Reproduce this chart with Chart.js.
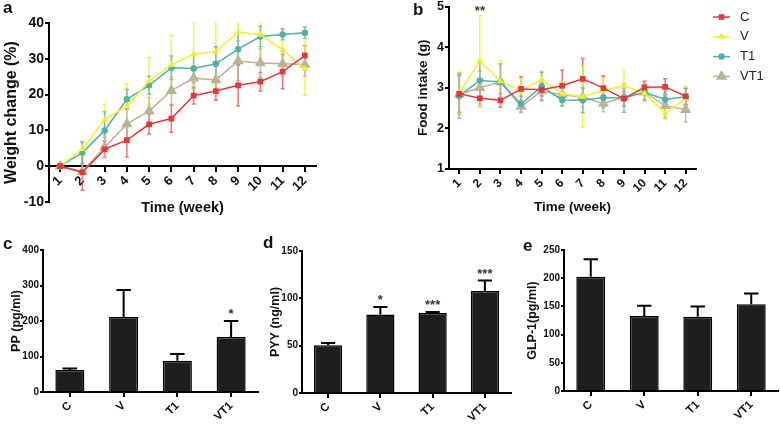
<!DOCTYPE html>
<html>
<head>
<meta charset="utf-8">
<script src="https://cdn.jsdelivr.net/npm/chart.js@4.4.1/dist/chart.umd.min.js"></script>
<style>
  html, body { margin: 0; padding: 0; background: #fff; }
  #page { position: relative; width: 780px; height: 424px; overflow: hidden; }
  .panel { position: absolute; }
  .letter { position: absolute; font: bold 17px 'Liberation Sans', Arial, sans-serif; color: #111; line-height: 1; }
</style>
</head>
<body>
<div id="page">
  <div class="panel" style="left:2px;top:13px;width:328px;height:236px"><canvas id="weightChart"></canvas></div>
  <div class="panel" style="left:415px;top:0px;width:365px;height:215px"><canvas id="foodChart"></canvas></div>
  <div class="panel" style="left:9px;top:240px;width:253px;height:184px"><canvas id="ppChart"></canvas></div>
  <div class="panel" style="left:268px;top:241px;width:247px;height:183px"><canvas id="pyyChart"></canvas></div>
  <div class="panel" style="left:525px;top:240px;width:255px;height:184px"><canvas id="glpChart"></canvas></div>
  <div class="letter" style="left:3px;top:-1px">a</div>
  <div class="letter" style="left:413px;top:1px">b</div>
  <div class="letter" style="left:3px;top:235px">c</div>
  <div class="letter" style="left:263px;top:234px">d</div>
  <div class="letter" style="left:523px;top:237px">e</div>
</div>
<script>
// week labels and groups
const weeks = ['1', '2', '3', '4', '5', '6', '7', '8', '9', '10', '11', '12'];
const groups = ['C', 'V', 'T1', 'VT1'];

// weight change (%) per group, mean and SD
const weightC   = [0, -1.7, 4.7, 7.3, 11.7, 13.3, 19.7, 21.0, 22.6, 23.6, 26.4, 30.9];
const weightV   = [0, 4.8, 13.0, 16.8, 23.8, 28.3, 31.3, 32.0, 37.5, 36.7, 32.5, 27.3];
const weightT1  = [0, 3.8, 10.0, 18.7, 22.6, 27.5, 27.3, 28.6, 32.7, 36.2, 36.8, 37.3];
const weightVT1 = [0, -1.5, 5.3, 11.8, 15.4, 21.1, 24.6, 24.1, 29.4, 28.8, 28.6, 28.4];
const weightErrC   = [0.3, 5.0, 2.3, 4.7, 2.8, 3.8, 2.3, 2.6, 5.8, 2.6, 4.8, 2.8];
const weightErrV   = [0.3, 2.0, 4.3, 6.2, 6.5, 8.2, 9.0, 9.0, 8.0, 6.5, 6.0, 7.5];
const weightErrT1  = [0.3, 3.0, 5.2, 2.8, 2.5, 3.3, 4.0, 4.8, 4.5, 2.8, 1.5, 1.6];
const weightErrVT1 = [0.3, 2.0, 2.8, 4.5, 3.8, 3.8, 3.0, 3.8, 5.5, 4.0, 3.5, 3.2];

// food intake (g)
const foodC   = [2.85, 2.74, 2.69, 2.97, 2.95, 3.05, 3.22, 2.99, 2.73, 3.01, 3.02, 2.79];
const foodV   = [2.88, 3.66, 3.16, 2.92, 3.20, 2.85, 2.78, 2.93, 3.05, 2.86, 2.37, 2.73];
const foodT1  = [2.80, 3.18, 3.14, 2.60, 3.03, 2.70, 2.69, 2.76, 2.75, 2.89, 2.71, 2.78];
const foodVT1 = [2.84, 3.00, 3.14, 2.54, 2.92, 2.83, 2.77, 2.61, 2.77, 2.89, 2.56, 2.46];
const foodErrC   = [0.45, 0.20, 0.17, 0.30, 0.15, 0.38, 0.50, 0.30, 0.18, 0.15, 0.20, 0.20];
const foodErrV   = [0.50, 1.12, 0.50, 0.30, 0.20, 0.30, 0.75, 0.30, 0.38, 0.20, 0.15, 0.30];
const foodErrT1  = [0.55, 0.45, 0.45, 0.20, 0.35, 0.15, 0.30, 0.25, 0.35, 0.20, 0.20, 0.20];
const foodErrVT1 = [0.50, 0.40, 0.45, 0.15, 0.20, 0.15, 0.25, 0.20, 0.20, 0.20, 0.30, 0.30];
const foodStarsV = ['', '**', '', '', '', '', '', '', '', '', '', ''];

// hormones
const pp = [62, 211, 88, 155];
const ppErr = [4, 76, 19, 45];
const ppStars = ['', '', '', '*'];
const pyy = [50.4, 82.9, 84.6, 107.8];
const pyyErr = [2.5, 8, 1, 11];
const pyyStars = ['', '*', '***', '***'];
const glp1 = [202.7, 133, 131.7, 153.7];
const glp1Err = [31, 18, 18, 19];

/*********************************************/

const FONT = "'Liberation Sans', Arial, sans-serif";
Chart.defaults.font.family = FONT;
Chart.defaults.font.weight = 'bold';
Chart.defaults.color = '#111';
Chart.defaults.animation = false;
Chart.defaults.plugins.legend.display = false;
Chart.defaults.plugins.tooltip.enabled = false;

const lineColors = ['#e2393b', '#f2ee2c', '#4fb2a6', '#bdb396'];
const errColors = ['rgba(226,57,59,0.7)', 'rgba(242,238,44,0.85)', 'rgba(79,178,166,0.75)', 'rgba(189,179,150,0.8)'];
const markers = ['rect', 'triangle', 'circle', 'triangle'];
const markerSizes = [3, 2.5, 2.5, 5];

// error bars drawn from the y scale, caps on top (and bottom for lines)
const errorBars = {
  id: 'errorBars',
  beforeDatasetsDraw(chart, args, opts) {
    const ctx = chart.ctx;
    const area = chart.chartArea;
    const yScale = chart.scales.y;
    ctx.save();
    ctx.beginPath();
    ctx.rect(area.left - 30, area.top - 1, area.right - area.left + 60, area.bottom - area.top + 2);
    ctx.clip();
    chart.data.datasets.forEach((ds, i) => {
      if (!ds.err) return;
      chart.getDatasetMeta(i).data.forEach((el, j) => {
        const v = ds.data[j];
        const top = yScale.getPixelForValue(v + ds.err[j]);
        const bottom = opts.upOnly ? el.y : yScale.getPixelForValue(v - ds.err[j]);
        const half = opts.upOnly ? el.width * 0.25 : opts.cap;
        ctx.strokeStyle = ds.errColor || '#000';
        ctx.lineWidth = opts.width;
        ctx.beginPath();
        ctx.moveTo(el.x, bottom);
        ctx.lineTo(el.x, top);
        ctx.moveTo(el.x - half, top);
        ctx.lineTo(el.x + half, top);
        if (!opts.upOnly) {
          ctx.moveTo(el.x - half, bottom);
          ctx.lineTo(el.x + half, bottom);
        }
        ctx.stroke();
      });
    });
    ctx.restore();
  }
};

// significance stars above the error bar
const starMarks = {
  id: 'starMarks',
  afterDatasetsDraw(chart, args, opts) {
    const ctx = chart.ctx;
    const yScale = chart.scales.y;
    ctx.save();
    ctx.font = 'bold ' + opts.size + 'px ' + FONT;
    ctx.fillStyle = opts.color;
    ctx.textAlign = 'center';
    ctx.textBaseline = 'alphabetic';
    chart.data.datasets.forEach((ds, i) => {
      if (!ds.stars) return;
      chart.getDatasetMeta(i).data.forEach((el, j) => {
        if (!ds.stars[j]) return;
        const y = yScale.getPixelForValue(ds.data[j] + ds.err[j]);
        ctx.fillText(ds.stars[j], el.x, y - opts.gap);
      });
    });
    ctx.restore();
  }
};

// legend with line + marker, to the right of panel b
const sideLegend = {
  id: 'sideLegend',
  afterDraw(chart, args, opts) {
    const ctx = chart.ctx;
    chart.data.datasets.forEach((ds, i) => {
      const y = opts.top + i * opts.step;
      ctx.save();
      ctx.strokeStyle = ds.borderColor;
      ctx.lineWidth = 1.5;
      ctx.beginPath();
      ctx.moveTo(opts.x, y);
      ctx.lineTo(opts.x + opts.len, y);
      ctx.stroke();
      ctx.fillStyle = ds.borderColor;
      if (Chart.helpers && Chart.helpers.drawPoint) {
        Chart.helpers.drawPoint(ctx, {pointStyle: ds.pointStyle, radius: ds.pointRadius, rotation: 0, borderWidth: 1}, opts.x + opts.len / 2, y);
      }
      ctx.fillStyle = '#222';
      ctx.font = 'normal ' + opts.size + 'px ' + FONT;
      ctx.textAlign = 'left';
      ctx.textBaseline = 'middle';
      ctx.fillText(ds.label, opts.x + opts.len + opts.gap, y);
      ctx.restore();
    });
  }
};

function lineSets(values, errs) {
  return groups.map((g, i) => ({
    label: g,
    data: values[i],
    err: errs[i],
    errColor: errColors[i],
    borderColor: lineColors[i],
    backgroundColor: lineColors[i],
    pointBackgroundColor: lineColors[i],
    pointBorderColor: lineColors[i],
    pointStyle: markers[i],
    pointRadius: markerSizes[i],
    borderWidth: 1.5,
    tension: 0
  }));
}

function yAxis(min, max, step, title, tickSize, titleSize, width, tickLen) {
  return {
    min: min,
    max: max,
    ticks: { stepSize: step, font: { size: tickSize }, padding: 1, color: '#111' },
    grid: { drawOnChartArea: false, tickLength: tickLen, color: '#000', lineWidth: 2 },
    border: { color: '#000', width: 2 },
    title: { display: true, text: title, font: { size: titleSize }, padding: 0, color: '#111' },
    afterFit(s) { s.width = width; s.paddingTop = 0; s.paddingBottom = 0; }
  };
}

function xAxis(position, tickSize, title, titleSize, height) {
  return {
    type: 'category',
    offset: true,
    position: position,
    ticks: { autoSkip: false, minRotation: 45, maxRotation: 45, font: { size: tickSize }, padding: 2, color: '#111' },
    grid: { offset: false, drawOnChartArea: false, tickLength: 5, color: '#000', lineWidth: 2 },
    border: { color: '#000', width: 2 },
    title: { display: !!title, text: title, font: { size: titleSize }, padding: 0, color: '#111' },
    afterFit(s) { s.height = height; s.paddingLeft = 0; s.paddingRight = 0; }
  };
}

/*********************************************/

function weightChart() {
  const data = {
    labels: weeks,
    datasets: lineSets([weightC, weightV, weightT1, weightVT1], [weightErrC, weightErrV, weightErrT1, weightErrVT1])
  };
  const options = {
    responsive: true,
    maintainAspectRatio: false,
    // the x axis sits on y = 0, so the room under -10 is set by padding
    layout: { padding: { top: 10, right: 14, left: 0, bottom: 47 } },
    scales: {
      x: xAxis({ y: 0 }, 13, 'Time (week)', 14.5, 50),
      y: yAxis(-10, 40, 10, 'Weight change (%)', 14, 16, 47, 4)
    },
    plugins: { errorBars: { cap: 2, width: 1.5 } }
  };
  new Chart(document.getElementById('weightChart'), { type: 'line', data, options, plugins: [errorBars] });
}

function foodChart() {
  const sets = lineSets([foodC, foodV, foodT1, foodVT1], [foodErrC, foodErrV, foodErrT1, foodErrVT1]);
  sets[1].stars = foodStarsV;
  const options = {
    responsive: true,
    maintainAspectRatio: false,
    layout: { padding: { top: 6, right: 84, left: 0, bottom: 0 } },
    scales: {
      x: xAxis('bottom', 12, 'Time (week)', 13.5, 46),
      y: yAxis(1, 5, 1, 'Food intake (g)', 12.5, 13.5, 34, 4)
    },
    plugins: {
      errorBars: { cap: 2, width: 1.5 },
      starMarks: { size: 13, color: '#333', gap: 0 },
      sideLegend: { x: 298, len: 17, gap: 10, top: 17, step: 19.8, size: 13 }
    }
  };
  new Chart(document.getElementById('foodChart'), {
    type: 'line',
    data: { labels: weeks, datasets: sets },
    options,
    plugins: [errorBars, starMarks, sideLegend]
  });
}

function barChart(id, values, errs, stars, yMax, yStep, title, yWidth, xHeight, padRight) {
  const data = {
    labels: groups,
    datasets: [{
      data: values,
      err: errs,
      stars: stars,
      errColor: '#000',
      backgroundColor: '#1e1e1e',
      borderColor: '#000',
      borderWidth: 1.5,
      barPercentage: 0.54,
      categoryPercentage: 1
    }]
  };
  const options = {
    responsive: true,
    maintainAspectRatio: false,
    layout: { padding: { top: 10, right: padRight, left: 0, bottom: 0 } },
    scales: {
      x: xAxis('bottom', 11.5, '', 12, xHeight),
      y: yAxis(0, yMax, yStep, title, 10, 12.5, yWidth, 3)
    },
    plugins: {
      errorBars: { upOnly: true, width: 2 },
      starMarks: { size: 13, color: '#333', gap: 3 }
    }
  };
  new Chart(document.getElementById(id), { type: 'bar', data, options, plugins: [errorBars, starMarks] });
}

/************** To Run Chart Functions *************/
weightChart();
foodChart();
barChart('ppChart', pp, ppErr, ppStars, 400, 100, 'PP (pg/ml)', 34, 32, 4);
barChart('pyyChart', pyy, pyyErr, pyyStars, 150, 50, 'PYY (ng/ml)', 34, 31, 4);
barChart('glpChart', glp1, glp1Err, null, 250, 50, 'GLP-1(pg/ml)', 39, 33, 2);
</script>
</body>
</html>
